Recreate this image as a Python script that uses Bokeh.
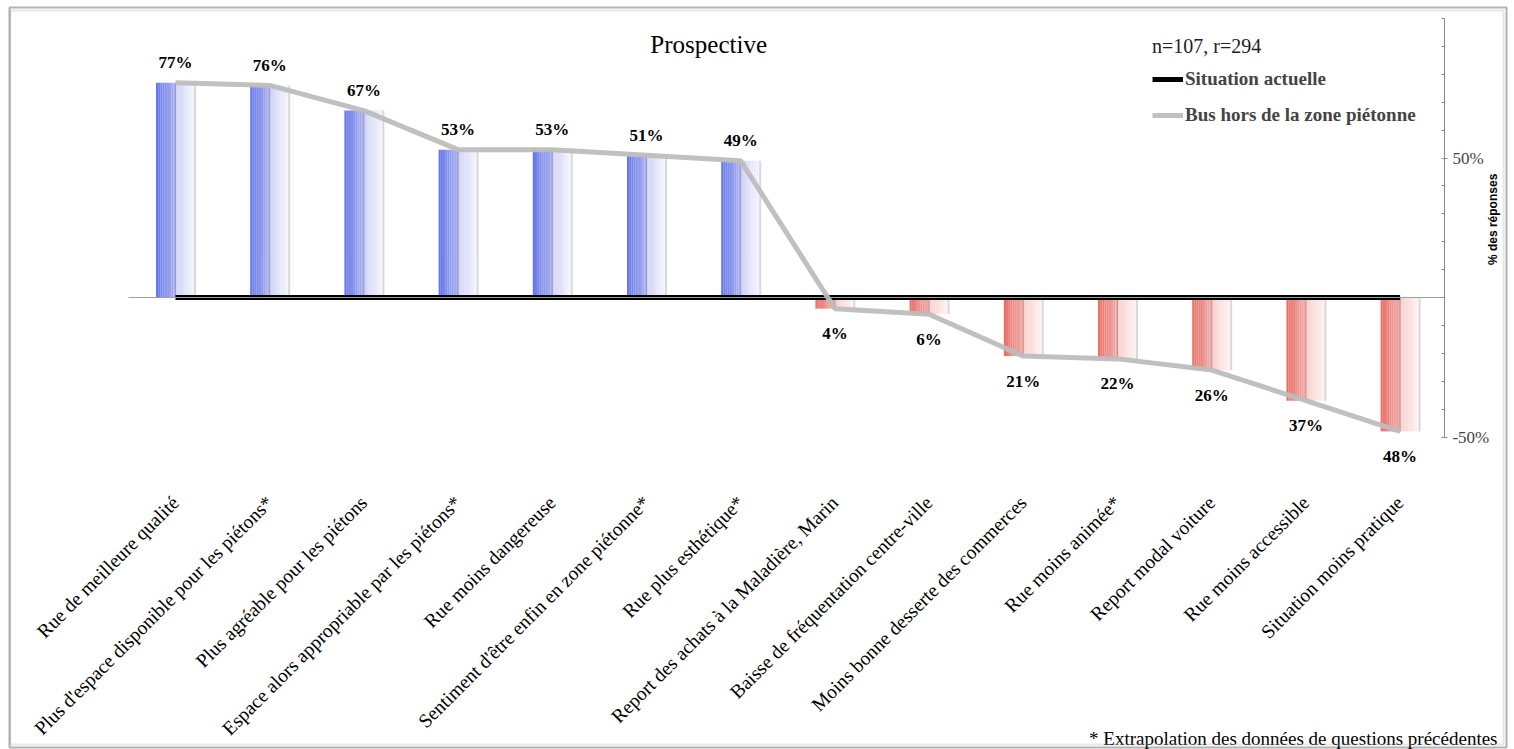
import math
from bokeh.plotting import figure
from bokeh.models import (FixedTicker, Label, Legend, LegendItem, LinearAxis,
                          BoxAnnotation, Range1d, PrintfTickFormatter)
from bokeh.core.properties import value
from bokeh.embed import file_html
from bokeh.resources import INLINE

# ---------------- data ----------------
categories = [
    "Rue de meilleure qualité",
    "Plus d'espace disponible pour les piétons*",
    "Plus agréable pour les piétons",
    "Espace alors appropriable par les piétons*",
    "Rue moins dangereuse",
    "Sentiment d'être enfin en zone piétonne*",
    "Rue plus esthétique*",
    "Report des achats à la Maladière, Marin",
    "Baisse de fréquentation centre-ville",
    "Moins bonne desserte des commerces",
    "Rue moins animée*",
    "Report modal voiture",
    "Rue moins accessible",
    "Situation moins pratique",
]
bus_values = [77, 76, 67, 53, 53, 51, 49, -4, -6, -21, -22, -26, -37, -48]
actuelle_values = [0, 0, 0, 0, 0, 0, 0, 0, 0, 0, 0, 0, 0, 0]
series_names = ["Situation actuelle", "Bus hors de la zone piétonne"]
sample_note = "n=107, r=294"
title_text = "Prospective"
axis_title = "% des réponses"
footnote = "* Extrapolation des données de questions précédentes"
y_ticks = [-50, 50]
y_minor = [-40, -30, -20, -10, 0, 10, 20, 30, 40, 60, 70, 80, 90, 100]
y_bounds = (-50, 100)

# ---------------- styles ----------------
SERIF = "Liberation Serif"
BLUE_L = ((100, 117, 232), (172, 180, 242))
BLUE_R = ((206, 210, 247), (247, 247, 254))
RED_L = ((232, 110, 102), (241, 174, 170))
RED_R = ((246, 207, 204), (254, 244, 243))
HALF = 0.207
NSTRIP = 9
W, H = 1514, 749


def mix(c0, c1, t):
    return "#%02x%02x%02x" % tuple(int(round(a + (b - a) * t)) for a, b in zip(c0, c1))


xs = list(range(len(categories)))
n = len(categories)

p = figure(width=W, height=H, x_range=Range1d(-1.8577, 14.2145), y_range=Range1d(-162.0, 106.45),
           output_backend="svg", toolbar_location=None, y_axis_location="right", min_border=0)
p.min_border_left = 0
p.min_border_right = 0
p.min_border_top = 0
p.min_border_bottom = 0
p.xgrid.grid_line_color = None
p.ygrid.grid_line_color = None
p.outline_line_color = None
p.background_fill_color = "white"
p.border_fill_color = "white"

# category axis line at zero
zaxis = LinearAxis(fixed_location=0, bounds=(-0.5, n - 0.53), ticker=FixedTicker(ticks=[]),
                   axis_line_color="#a0a0a0", axis_line_width=1,
                   major_tick_line_color=None, minor_tick_line_color=None,
                   major_label_text_alpha=0)
p.add_layout(zaxis, "below")

# gradient bars built from the data
ql, qr, qt, qb, qc = [], [], [], [], []
for i, v in zip(xs, bus_values):
    pal = (BLUE_L, BLUE_R) if v >= 0 else (RED_L, RED_R)
    for side in (0, 1):
        c0, c1 = pal[side]
        for k in range(NSTRIP):
            left = i - HALF + side * HALF + k * HALF / NSTRIP
            ql.append(left)
            qr.append(left + HALF / NSTRIP + 0.0005)
            qt.append(max(v, 0))
            qb.append(min(v, 0))
            qc.append(mix(c0, c1, (k + 0.5) / NSTRIP))
p.quad(left=ql, right=qr, top=qt, bottom=qb, fill_color=qc, line_color=None)

# middle divider and right shading of each bar
mid_col = ["#9a9ab8" if v >= 0 else "#c09290" for v in bus_values]
p.segment(x0=xs, y0=[0] * n, x1=xs, y1=bus_values, line_color=mid_col, line_width=1)
p.segment(x0=[x + HALF for x in xs], y0=[0] * n, x1=[x + HALF for x in xs], y1=bus_values,
          line_color="#d9d9d9", line_width=2)

# series lines
r_act = p.line(xs, actuelle_values, line_color="black", line_width=5)
r_bus = p.line(xs, bus_values, line_color="#bdbdbd", line_width=5, line_alpha=0.95)

# data labels
pos_x = [x for x, v in zip(xs, bus_values) if v >= 0]
pos_v = [v for v in bus_values if v >= 0]
neg_x = [x for x, v in zip(xs, bus_values) if v < 0]
neg_v = [v for v in bus_values if v < 0]
p.text(x=pos_x, y=pos_v, text=["%d%%" % abs(v) for v in pos_v], y_offset=-20,
       text_align="center", text_baseline="alphabetic", text_font=value(SERIF),
       text_font_style="bold", text_font_size="17px", text_color="black")
p.text(x=neg_x, y=neg_v, text=["%d%%" % abs(v) for v in neg_v], y_offset=25,
       text_align="center", text_baseline="alphabetic", text_font=value(SERIF),
       text_font_style="bold", text_font_size="17px", text_color="black")

# x axis (categories), drawn below the chart area
xa = p.xaxis[0]
xa.fixed_location = -65.59
xa.ticker = FixedTicker(ticks=xs)
xa.major_label_overrides = {i: c for i, c in zip(xs, categories)}
xa.major_label_orientation = math.pi / 4
xa.axis_line_color = None
xa.major_tick_line_color = None
xa.minor_tick_line_color = None
xa.major_tick_out = 0
xa.major_tick_in = 0
xa.major_label_standoff = 19
xa.major_label_text_font = SERIF
xa.major_label_text_font_size = "19.5px"
xa.major_label_text_color = "black"

# right value axis
ya = p.yaxis[0]
ya.fixed_location = 13.471
ya.ticker = FixedTicker(ticks=y_ticks, minor_ticks=y_minor)
ya.formatter = PrintfTickFormatter(format="%d%%")
ya.bounds = y_bounds
ya.axis_line_color = "#8a8a8a"
ya.major_tick_line_color = "#8a8a8a"
ya.minor_tick_line_color = "#8a8a8a"
ya.major_tick_in = 3
ya.major_tick_out = 3
ya.minor_tick_in = 3
ya.minor_tick_out = 0
ya.major_label_standoff = 5
ya.major_label_text_font = SERIF
ya.major_label_text_font_size = "17px"
ya.major_label_text_color = "#444444"

# texts
p.add_layout(Label(x=5.66, y=90.7, text=title_text, text_align="center", text_baseline="middle",
                   text_font=SERIF, text_font_size="25px", text_color="black"))
p.add_layout(Label(x=13.99, y=28, text=axis_title, angle=math.pi / 2, text_align="center",
                   text_baseline="middle", text_font="Liberation Sans", text_font_style="bold",
                   text_font_size="12px", text_color="black"))
p.add_layout(Label(x=14.034, y=-158.1, text=footnote, text_align="right", text_baseline="alphabetic",
                   text_font=SERIF, text_font_size="19px", text_color="black"))

# legend
legend = Legend(items=[LegendItem(label=series_names[0], renderers=[r_act]),
                       LegendItem(label=series_names[1], renderers=[r_bus])],
                location=(1152, 623), title=sample_note, orientation="vertical")
legend.border_line_color = None
legend.background_fill_alpha = 0
legend.padding = 0
legend.margin = 0
legend.spacing = 14
legend.glyph_width = 31
legend.glyph_height = 20
legend.label_height = 20
legend.label_standoff = 2
legend.label_text_font = SERIF
legend.label_text_font_style = "bold"
legend.label_text_font_size = "19px"
legend.title_text_font = SERIF
legend.title_text_font_style = "normal"
legend.title_text_font_size = "20px"
legend.title_text_color = "#222222"
legend.title_standoff = 10
p.add_layout(legend)

# outer frame of the chart: grey inner shade, then black outline on top
for box in (dict(left=10, right=1503, top=10, bottom=744, line_color="#b0b0b0", line_width=2),
            dict(left=9, right=1506, top=7, bottom=747, line_color="black", line_width=2)):
    p.add_layout(BoxAnnotation(left_units="canvas", right_units="canvas", top_units="canvas",
                               bottom_units="canvas", fill_alpha=0, level="overlay", **box))

open("out.html", "w").write(file_html(p, INLINE))
